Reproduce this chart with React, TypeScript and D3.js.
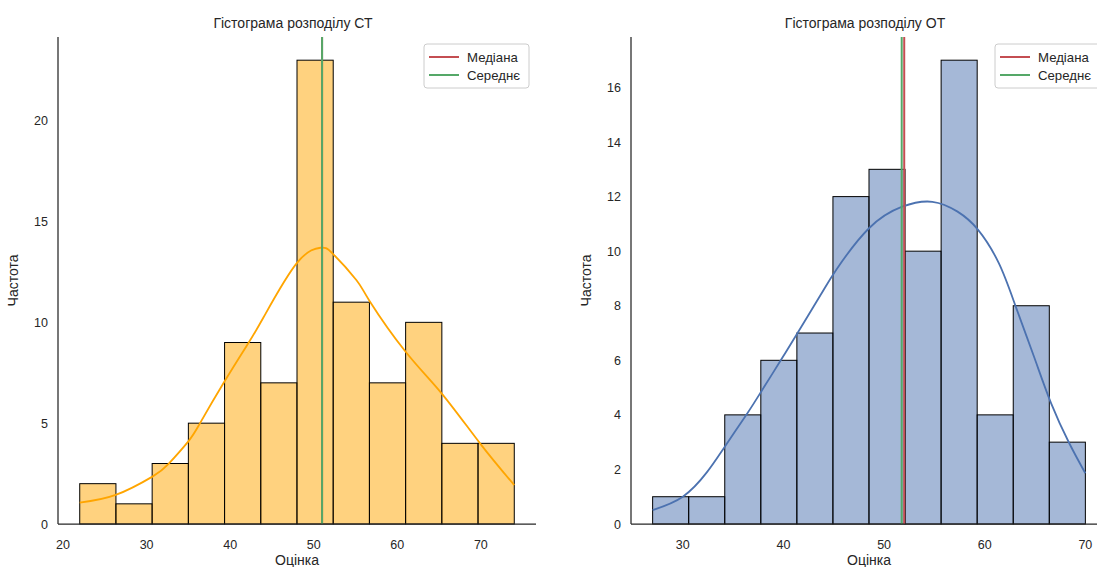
import React from "react";
import * as d3 from "d3";

// ---- CT scores ----
const ctRange: [number, number] = [22, 74];
const ctCounts = [2, 1, 3, 5, 9, 7, 23, 11, 7, 10, 4, 4];
const ctMedian = 51;
const ctMean = 51;
const ctKdeX = [22, 26.3, 30.7, 32.6, 35, 36.4, 39.3, 42, 44, 48, 50.8, 52.3, 55.1, 56.7, 61, 65.3, 69.9, 74];
const ctKdeY = [1.06, 1.44, 2.35, 2.97, 4.1, 5.0, 7.05, 8.85, 10.25, 12.95, 13.7, 13.4, 12.1, 11.05, 8.54, 6.48, 4.0, 1.93];
const ctXTicks = [20, 30, 40, 50, 60, 70];
const ctYTicks = [0, 5, 10, 15, 20];

// ---- OT scores ----
const otRange: [number, number] = [27, 70];
const otCounts = [1, 1, 4, 6, 7, 12, 13, 10, 17, 4, 8, 3];
const otMedian = 52;
const otMean = 51.75;
const otKdeX = [27, 30, 32.4, 34.2, 36.4, 37.9, 39.7, 41.4, 43.7, 45.3, 48.5, 51.8, 54.8, 57.3, 59.3, 61.4, 63.1, 64.9, 66.6, 68.4, 70];
const otKdeY = [0.51, 1.0, 1.9, 2.85, 4.05, 4.92, 5.98, 7.0, 8.4, 9.35, 10.84, 11.63, 11.81, 11.45, 10.8, 9.56, 7.95, 6.13, 4.42, 2.96, 1.86];
const otXTicks = [30, 40, 50, 60, 70];
const otYTicks = [0, 2, 4, 6, 8, 10, 12, 14, 16];

const legendLabels = ["Медіана", "Середнє"];
const medianColor = "#C44E52";
const meanColor = "#55A868";
const textColor = "#262626";
const FONT = "'Liberation Sans', Arial, 'DejaVu Sans', sans-serif";

type PanelProps = {
  title: string;
  left: number;
  right: number;
  top: number;
  bottom: number;
  range: [number, number];
  counts: number[];
  median: number;
  mean: number;
  kdeX: number[];
  kdeY: number[];
  xTicks: number[];
  yTicks: number[];
  color: string;
};

function Panel(p: PanelProps) {
  const [lo, hi] = p.range;
  const pad = (hi - lo) * 0.05;
  const x = d3.scaleLinear().domain([lo - pad, hi + pad]).range([p.left, p.right]);
  const yMax = (d3.max(p.counts) as number) * 1.05;
  const y = d3.scaleLinear().domain([0, yMax]).range([p.bottom, p.top]);
  const binW = (hi - lo) / p.counts.length;

  const kde = d3
    .line<number>()
    .x((_, i) => x(p.kdeX[i]))
    .y((d) => y(d))
    .curve(d3.curveNatural);

  const cx = (p.left + p.right) / 2;
  const cy = (p.top + p.bottom) / 2;
  const lgX = p.right - 7 - 105;
  const lgY = p.top + 7;

  return (
    <g fontFamily={FONT} fill={textColor}>
      {/* histogram bars */}
      {p.counts.map((c, i) => {
        const x0 = x(lo + i * binW);
        const x1 = x(lo + (i + 1) * binW);
        return (
          <rect
            key={i}
            x={x0}
            y={y(c)}
            width={x1 - x0}
            height={y(0) - y(c)}
            fill={p.color}
            fillOpacity={0.5}
            stroke="#000"
            strokeWidth={1}
          />
        );
      })}
      {/* density curve */}
      <path d={kde(p.kdeY) || ""} fill="none" stroke={p.color} strokeWidth={1.8} />
      {/* median and mean markers */}
      <line x1={x(p.median)} x2={x(p.median)} y1={p.top} y2={p.bottom} stroke={medianColor} strokeWidth={2} />
      <line x1={x(p.mean)} x2={x(p.mean)} y1={p.top} y2={p.bottom} stroke={meanColor} strokeWidth={2} />
      {/* spines */}
      <line x1={p.left} x2={p.left} y1={p.top} y2={p.bottom} stroke={textColor} strokeWidth={1.25} />
      <line x1={p.left} x2={p.right} y1={p.bottom} y2={p.bottom} stroke={textColor} strokeWidth={1.25} />
      {/* tick labels */}
      {p.xTicks.map((t) => (
        <text key={"x" + t} x={x(t)} y={p.bottom + 25} textAnchor="middle" fontSize={12.5}>
          {t}
        </text>
      ))}
      {p.yTicks.map((t) => (
        <text key={"y" + t} x={p.left - 10} y={y(t) + 4.5} textAnchor="end" fontSize={12.5}>
          {t}
        </text>
      ))}
      {/* axis labels and title */}
      <text x={cx} y={p.bottom + 41} textAnchor="middle" fontSize={14}>
        Оцінка
      </text>
      <text
        transform={`translate(${p.left - 40},${cy}) rotate(-90)`}
        textAnchor="middle"
        fontSize={14}
      >
        Частота
      </text>
      <text x={cx - 4} y={p.top - 9} textAnchor="middle" fontSize={14}>
        {p.title}
      </text>
      {/* legend */}
      <rect x={lgX} y={lgY} width={105} height={44} rx={3} fill="#fff" fillOpacity={0.8} stroke="#cccccc" strokeWidth={1} />
      {legendLabels.map((lab, i) => {
        const ly = lgY + 13 + i * 18;
        return (
          <g key={lab}>
            <line x1={lgX + 5} x2={lgX + 35} y1={ly} y2={ly} stroke={i === 0 ? medianColor : meanColor} strokeWidth={2} />
            <text x={lgX + 43} y={ly + 4.6} fontSize={13.2}>
              {lab}
            </text>
          </g>
        );
      })}
    </g>
  );
}

export default function App() {
  return (
    <svg
      width={1097}
      height={567}
      style={{ position: "absolute", left: 0, top: 0, background: "#fff" }}
    >
      <Panel
        title="Гістограма розподілу СТ"
        left={58}
        right={536}
        top={37}
        bottom={524}
        range={ctRange}
        counts={ctCounts}
        median={ctMedian}
        mean={ctMean}
        kdeX={ctKdeX}
        kdeY={ctKdeY}
        xTicks={ctXTicks}
        yTicks={ctYTicks}
        color="#FFA500"
      />
      <Panel
        title="Гістограма розподілу ОТ"
        left={631}
        right={1107}
        top={37}
        bottom={524}
        range={otRange}
        counts={otCounts}
        median={otMedian}
        mean={otMean}
        kdeX={otKdeX}
        kdeY={otKdeY}
        xTicks={otXTicks}
        yTicks={otYTicks}
        color="#4C72B0"
      />
    </svg>
  );
}
